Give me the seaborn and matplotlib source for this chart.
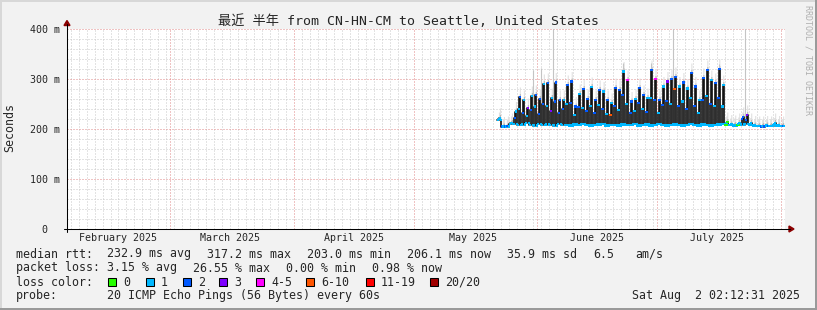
import matplotlib
matplotlib.use("Agg")
import matplotlib.pyplot as plt
import matplotlib.dates as mdates
from matplotlib.ticker import MultipleLocator
from matplotlib.lines import Line2D
from matplotlib.patches import Polygon, Rectangle
import numpy as np
import pandas as pd
import seaborn as sns

W, H = 817, 310

# ------------------------------------------------------------------ data
first_day = "2025-05-22"
# daily median rtt (ms): night low, morning value, evening peak
low_ms = [218, 205, 205, 210,
          210, 208, 209, 212, 208, 207, 210, 208, 209, 208,
          207, 210, 208, 208, 207, 209, 208, 210, 208, 207,
          208, 209, 210, 207, 208, 208, 207, 209, 208, 208,
          210, 207, 208, 209, 207, 208, 210, 208, 207, 208,
          209, 208, 207, 208, 210, 208, 207, 209, 208, 207,
          208, 209, 210,
          208, 208, 207, 208, 209, 210, 208, 206, 206, 205, 206, 206, 207, 206, 206, 206]
peak_ms = [222, 205, 206, 212,
           235, 264, 258, 242, 266, 268, 260, 290, 292, 262,
           293, 258, 258, 288, 295, 245, 270, 280, 260, 284,
           258, 278, 275, 258, 252, 282, 278, 315, 298, 255,
           260, 282, 268, 262, 318, 300, 258, 285, 295, 300,
           304, 285, 293, 281, 312, 285, 258, 302, 318, 298,
           292, 320, 288,
           214, 209, 208, 212, 224, 228, 212, 207, 206, 206, 207, 206, 212, 207, 206, 206]
mid_ms = [220, 205, 206, 212,
          222, 240, 232, 226, 238, 245, 230, 250, 246, 236,
          255, 232, 240, 250, 252, 228, 244, 242, 236, 246,
          232, 248, 240, 230, 228, 246, 238, 268, 250, 232,
          236, 252, 240, 234, 262, 258, 232, 248, 256, 250,
          280, 246, 255, 240, 262, 246, 232, 258, 266, 250,
          246, 262, 245,
          212, 208, 208, 210, 220, 218, 209, 207, 206, 206, 207, 206, 209, 207, 206, 206]
# loss category index per sample
low_loss = ("1211"
            "1111111111111111111111111111111111111111111111111111"
            "1"
            "0110111112211111")
peak_loss = ("1121"
             "12131221212212221221221212214212212421322121221221221"
             "0111231111111121")
mid_loss = ("1121"
            "21212122132221212121212152121212121212215212121212121"
            "1111221111111111")

outlier_times = ["2025-05-31 00:00", "2025-06-02 00:00", "2025-06-05 00:00",
                 "2025-06-22 12:00", "2025-06-29 12:00", "2025-07-05 00:00",
                 "2025-07-16 12:00", "2025-07-23 00:00"]
outlier_ms = [318, 322, 430, 332, 332, 430, 330, 430]

loss_labels = ["0", "1", "2", "3", "4-5", "6-10", "11-19", "20/20"]
loss_colors = ["#26ff00", "#00b8ff", "#0059ff", "#7e00ff",
               "#ff00ff", "#ff5500", "#ff0000", "#a10000"]

month_labels = ["February 2025", "March 2025", "April 2025",
                "May 2025", "June 2025", "July 2025"]
month_label_dates = ["2025-02-16", "2025-03-16", "2025-04-16",
                     "2025-05-16", "2025-06-16", "2025-07-16"]
y_ticks = [0, 100, 200, 300, 400]
y_tick_labels = ["0  ", "100 m", "200 m", "300 m", "400 m"]

title = "最近 半年 from CN-HN-CM to Seattle, United States"
rtt_items = ["median rtt:", "232.9 ms avg", "317.2 ms max", "203.0 ms min",
             "206.1 ms now", "35.9 ms sd", "6.5", "am/s"]
loss_items = ["packet loss:", "3.15 % avg", "26.55 % max", "0.00 % min", "0.98 % now"]
probe_text = "20 ICMP Echo Pings (56 Bytes) every 60s"
stamp = "Sat Aug  2 02:12:31 2025"
end_time = pd.Timestamp("2025-08-02 02:12:31")

# ------------------------------------------------------------------ frame
sns.set_style("white")
MONO = ["DejaVu Sans Mono", "Noto Sans CJK SC"]
plt.rcParams["font.family"] = MONO

fig = plt.figure(figsize=(W / 100, H / 100), dpi=100)
fig.patch.set_facecolor("#f2f2f2")


def fx(x):
    return x / W


def fy(y):
    return 1 - y / H


ax = fig.add_axes([fx(67), fy(229), 718 / W, 200 / H])
ax.set_facecolor("white")

# ------------------------------------------------------------------ table
days = pd.date_range(first_day, periods=len(peak_ms), freq="D")
rows = []
for i, d in enumerate(days):
    slots = [(0, low_ms[i], low_loss[i], 0, 0),
             (6, mid_ms[i], mid_loss[i], 14, 5),
             (12, peak_ms[i], peak_loss[i], 20, 7),
             (18, low_ms[i], low_loss[i], 0, 0)]
    for h, v, code, o_out, o_in in slots:
        rows.append(dict(time=d + pd.Timedelta(hours=h), ms=v, loss=code,
                         lo=low_ms[i], hi_out=v + o_out, hi_in=v + o_in))
df = pd.DataFrame(rows)

# smoke
ax.fill_between(df["time"], df["lo"], df["hi_out"], step="post",
                color="#dedede", linewidth=0, zorder=2)
ax.fill_between(df["time"], df["lo"], df["hi_in"], step="post",
                color="#b4b4b4", linewidth=0, zorder=2)
ot = pd.to_datetime(pd.Series(outlier_times))
ax.vlines(ot, 215, outlier_ms, color="#c4c4c4", linewidth=0.8, zorder=2)

# median line
sns.lineplot(data=df, x="time", y="ms", drawstyle="steps-post", color="#141414",
             linewidth=1.2, estimator=None, sort=False, ax=ax, zorder=3)

# loss markers
dots = df.copy()
dots["time"] = dots["time"] + pd.Timedelta(hours=3)
dots["cat"] = dots["loss"].astype(int).map(lambda k: loss_labels[k])
palette = dict(zip(loss_labels, loss_colors))
sns.scatterplot(data=dots, x="time", y="ms", hue="cat", palette=palette,
                marker="s", s=3.2, linewidth=0, legend=False, ax=ax, zorder=4)

# ------------------------------------------------------------------ axes
ax.set_xlim(end_time - pd.Timedelta(days=180), end_time)
ax.set_ylim(0, 400)
ax.xaxis.set_major_locator(mdates.MonthLocator())
ax.xaxis.set_minor_locator(mdates.DayLocator(interval=2))
ax.yaxis.set_major_locator(MultipleLocator(100))
ax.yaxis.set_minor_locator(MultipleLocator(20))
ax.set_axisbelow(True)
ax.grid(which="minor", color="#c8c8c8", linestyle=(0, (1, 2)), linewidth=0.72)
ax.grid(which="major", color="#e08888", linestyle=(0, (1, 2)), linewidth=0.72)
for s in ax.spines.values():
    s.set_visible(False)
ax.set_xlabel("")
ax.set_ylabel("")
ax.set_xticklabels([])
ax.set_yticks(y_ticks)
ax.set_yticklabels(y_tick_labels, fontsize=7.2, family=MONO)
ax.tick_params(axis="both", which="both", direction="out", length=1.6,
               width=0.7, color="#777777", pad=3.5)
ax.tick_params(axis="x", which="both", labelbottom=False)

for lab, dt in zip(month_labels, month_label_dates):
    ax.text(pd.Timestamp(dt), -0.045, lab, transform=ax.get_xaxis_transform(),
            ha="center", va="center", fontsize=7.2, family=MONO)

# axis lines and arrows
fig.add_artist(Line2D([fx(67), fx(67)], [fy(232), fy(24)], color="black", lw=0.75))
fig.add_artist(Line2D([fx(64), fx(790)], [fy(229), fy(229)], color="black", lw=0.75))
fig.add_artist(Polygon([[fx(64), fy(25.5)], [fx(70), fy(25.5)], [fx(67), fy(20.5)]],
                       closed=True, color="#8b0000"))
fig.add_artist(Polygon([[fx(789), fy(226)], [fx(789), fy(232)], [fx(794), fy(229)]],
                       closed=True, color="#8b0000"))

# border shading
fig.add_artist(Rectangle((0, 0), 1, 2 / H, color="#9a9a9a", lw=0))
fig.add_artist(Rectangle((1 - 2 / W, 0), 2 / W, 1, color="#9a9a9a", lw=0))
fig.add_artist(Rectangle((0, 1 - 2 / H), 1 - 2 / W, 2 / H, color="#d8d8d8", lw=0))
fig.add_artist(Rectangle((0, 2 / H), 2 / W, 1 - 2 / H, color="#d8d8d8", lw=0))

# ------------------------------------------------------------------ texts
fig.text(fx(408), fy(21), title, ha="center", va="center", fontsize=9.5, family=MONO)
fig.text(fx(10), fy(128), "Seconds", rotation=90, ha="center", va="center",
         fontsize=8.4, family=MONO)
fig.text(fx(808), fy(5), "RRDTOOL / TOBI OETIKER", rotation=270, ha="center", va="top",
         fontsize=6.0, family=MONO, color="#b0b0b0")

LEG = 8.4
rtt_x = [16, 107, 207, 307, 407, 507, 593, 635]
for t, x in zip(rtt_items, rtt_x):
    fig.text(fx(x), fy(254), t, ha="left", va="center", fontsize=LEG, family=MONO)
loss_x = [16, 107, 193, 286, 372]
for t, x in zip(loss_items, loss_x):
    fig.text(fx(x), fy(268), t, ha="left", va="center", fontsize=LEG, family=MONO)
fig.text(fx(16), fy(282), "loss color:", ha="left", va="center", fontsize=LEG, family=MONO)
box_x = [108, 146, 183, 219, 256, 306, 366, 430]
for lab, col, x in zip(loss_labels, loss_colors, box_x):
    fig.add_artist(Rectangle((fx(x), fy(286)), 8 / W, 8 / H, facecolor=col,
                             edgecolor="black", lw=0.75))
    fig.text(fx(x + 15), fy(282), lab, ha="left", va="center", fontsize=LEG, family=MONO)
fig.text(fx(16), fy(296), "probe:", ha="left", va="center", fontsize=LEG, family=MONO)
fig.text(fx(107), fy(296), probe_text, ha="left", va="center", fontsize=LEG, family=MONO)
fig.text(fx(800), fy(296), stamp, ha="right", va="center", fontsize=LEG, family=MONO)

fig.savefig("out.png", dpi=100, facecolor=fig.get_facecolor())
